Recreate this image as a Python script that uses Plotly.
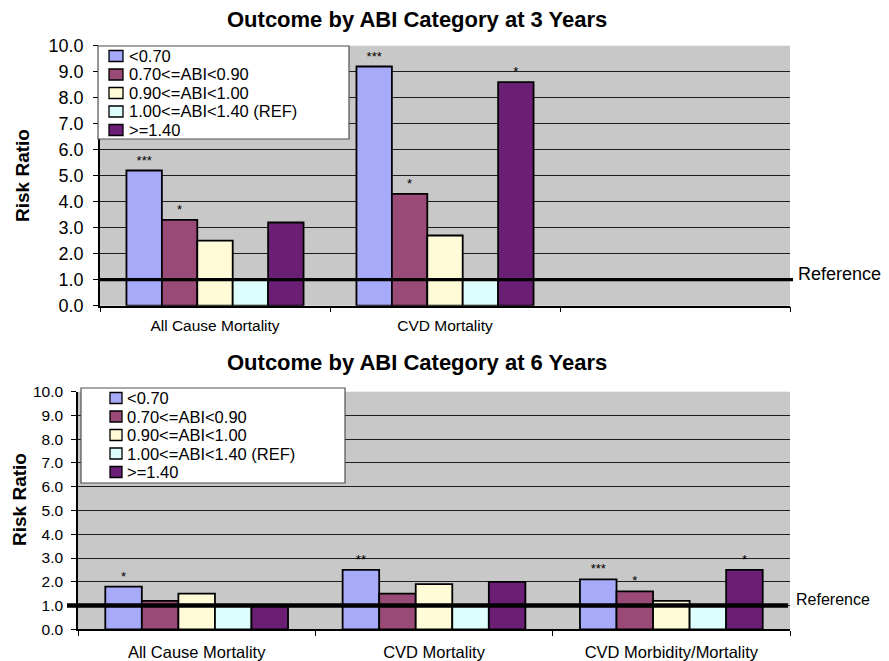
import plotly.graph_objects as go

# ---------------- data ----------------
SERIES = ["<0.70", "0.70<=ABI<0.90", "0.90<=ABI<1.00", "1.00<=ABI<1.40 (REF)", ">=1.40"]
COLORS = ["#A7A9F9", "#994A76", "#FFFBD6", "#DEFDFD", "#6A1F74"]

TOP_TITLE = "Outcome by ABI Category at 3 Years"
BOTTOM_TITLE = "Outcome by ABI Category at 6 Years"
Y_TITLE = "Risk Ratio"
REF_LABEL = "Reference"
REF_LEVEL = 1.0

TOP_CATEGORIES = ["All Cause Mortality", "CVD Mortality", " "]
top_lt070 = [5.2, 9.2, None]
top_070_090 = [3.3, 4.3, None]
top_090_100 = [2.5, 2.7, None]
top_ref = [1.0, 1.0, None]
top_ge140 = [3.2, 8.6, None]
top_stars_lt070 = ["***", "***", ""]
top_stars_070_090 = ["*", "*", ""]
top_stars_090_100 = ["", "", ""]
top_stars_ref = ["", "", ""]
top_stars_ge140 = ["", "*", ""]

BOTTOM_CATEGORIES = ["All Cause Mortality", "CVD Mortality", "CVD Morbidity/Mortality"]
bot_lt070 = [1.8, 2.5, 2.1]
bot_070_090 = [1.2, 1.5, 1.6]
bot_090_100 = [1.5, 1.9, 1.2]
bot_ref = [1.0, 1.0, 1.0]
bot_ge140 = [1.0, 2.0, 2.5]
bot_stars_lt070 = ["*", "**", "***"]
bot_stars_070_090 = ["", "", "*"]
bot_stars_090_100 = ["", "", ""]
bot_stars_ref = ["", "", ""]
bot_stars_ge140 = ["", "", "*"]

Y_TICKS = [0, 1, 2, 3, 4, 5, 6, 7, 8, 9, 10]

top_values = [top_lt070, top_070_090, top_090_100, top_ref, top_ge140]
top_stars = [top_stars_lt070, top_stars_070_090, top_stars_090_100, top_stars_ref, top_stars_ge140]
bot_values = [bot_lt070, bot_070_090, bot_090_100, bot_ref, bot_ge140]
bot_stars = [bot_stars_lt070, bot_stars_070_090, bot_stars_090_100, bot_stars_ref, bot_stars_ge140]

# ---------------- layout helpers ----------------
W, H = 889, 661
OFF = 8  # page body margin
FONT = "Arial, Liberation Sans, sans-serif"


def px(p):
    return (p - OFF) / W


def py(p):
    return 1 - (p - OFF) / H


fig = go.Figure()

for name, color, vals, stars in zip(SERIES, COLORS, top_values, top_stars):
    fig.add_trace(go.Bar(
        x=TOP_CATEGORIES, y=vals, name=name, text=stars,
        textposition="outside", textfont=dict(size=13, color="black", family=FONT),
        cliponaxis=False, marker=dict(color=color, line=dict(color="black", width=1.8)),
        xaxis="x", yaxis="y", showlegend=False, hoverinfo="x+y+name",
    ))

for name, color, vals, stars in zip(SERIES, COLORS, bot_values, bot_stars):
    fig.add_trace(go.Bar(
        x=BOTTOM_CATEGORIES, y=vals, name=name, text=stars,
        textposition="outside", textfont=dict(size=13, color="black", family=FONT),
        cliponaxis=False, marker=dict(color=color, line=dict(color="black", width=1.8)),
        xaxis="x2", yaxis="y2", showlegend=False, hoverinfo="x+y+name",
    ))

common_y = dict(
    range=[0, 10], tickvals=Y_TICKS, tickformat=".1f",
    showgrid=True, gridcolor="#1e1e1e", gridwidth=1.3,
    showline=True, linecolor="black", linewidth=1.5,
    ticks="outside", ticklen=5, tickcolor="black", tickwidth=1.3,
    zeroline=False, fixedrange=True, automargin=False,
)
common_x = dict(
    type="category", categoryorder="array", range=[-0.5, 2.5],
    showline=True, linecolor="black", linewidth=1.5,
    ticks="outside", tickson="boundaries", ticklen=5, tickcolor="black", tickwidth=1.3,
    showgrid=False, zeroline=False, fixedrange=True, automargin=False,
)

fig.update_layout(
    width=W, height=H, autosize=False,
    margin=dict(l=0, r=0, t=0, b=0, pad=0),
    paper_bgcolor="white", plot_bgcolor="#C8C8C8",
    barmode="group", bargap=0.23, bargroupgap=0,
    showlegend=False,
    font=dict(family=FONT, color="black"),
    xaxis=dict(common_x, domain=[px(100), px(790)], anchor="y",
               categoryarray=TOP_CATEGORIES, tickfont=dict(size=15.5), ticklabelstandoff=5),
    yaxis=dict(common_y, domain=[py(305.7), py(45.7)], anchor="x",
               tickfont=dict(size=18), ticklabelstandoff=6),
    xaxis2=dict(common_x, domain=[px(78), px(790)], anchor="y2",
                categoryarray=BOTTOM_CATEGORIES, tickfont=dict(size=16.5), ticklabelstandoff=7),
    yaxis2=dict(common_y, domain=[py(629.3), py(391.7)], anchor="x2",
                tickfont=dict(size=15.5), ticklabelstandoff=5),
)

annotations = []
shapes = []

# titles
annotations.append(dict(text="<b>%s</b>" % TOP_TITLE, x=px(417), y=py(20), xref="paper", yref="paper",
                        xanchor="center", yanchor="middle", showarrow=False, font=dict(size=22)))
annotations.append(dict(text="<b>%s</b>" % BOTTOM_TITLE, x=px(417), y=py(362), xref="paper", yref="paper",
                        xanchor="center", yanchor="middle", showarrow=False, font=dict(size=22)))
# axis titles
annotations.append(dict(text="<b>%s</b>" % Y_TITLE, x=px(22), y=py(176), xref="paper", yref="paper",
                        textangle=-90, xanchor="center", yanchor="middle", showarrow=False, font=dict(size=19)))
annotations.append(dict(text="<b>%s</b>" % Y_TITLE, x=px(20), y=py(500), xref="paper", yref="paper",
                        textangle=-90, xanchor="center", yanchor="middle", showarrow=False, font=dict(size=19)))

# reference lines and labels
shapes.append(dict(type="line", xref="paper", yref="y", x0=px(100), x1=px(793), y0=REF_LEVEL, y1=REF_LEVEL,
                   line=dict(color="black", width=3.3), layer="above"))
shapes.append(dict(type="line", xref="paper", yref="y2", x0=px(67), x1=px(788), y0=REF_LEVEL, y1=REF_LEVEL,
                   line=dict(color="black", width=4.5), layer="above"))
annotations.append(dict(text=REF_LABEL, x=px(796), y=REF_LEVEL, xref="paper", yref="y", yshift=6,
                        xanchor="left", yanchor="middle", showarrow=False, font=dict(size=18)))
annotations.append(dict(text=REF_LABEL, x=px(794), y=REF_LEVEL, xref="paper", yref="y2", yshift=6,
                        xanchor="left", yanchor="middle", showarrow=False, font=dict(size=16)))


# custom legends (compact, like the original)
def add_legend(box, sw_x0, sw_x1, text_x, y0, step, fsize):
    shapes.append(dict(type="rect", xref="paper", yref="paper",
                       x0=px(box[0]), x1=px(box[2]), y0=py(box[3]), y1=py(box[1]),
                       fillcolor="white", line=dict(color="#505050", width=1.2), layer="above"))
    for i, (name, color) in enumerate(zip(SERIES, COLORS)):
        cy = y0 + i * step
        shapes.append(dict(type="rect", xref="paper", yref="paper",
                           x0=px(sw_x0), x1=px(sw_x1), y0=py(cy + 5.5), y1=py(cy - 5.5),
                           fillcolor=color, line=dict(color="black", width=1.3), layer="above"))
        annotations.append(dict(text=name, x=px(text_x), y=py(cy), xref="paper", yref="paper",
                                xanchor="left", yanchor="middle", showarrow=False,
                                font=dict(size=fsize)))


add_legend((98, 46, 349, 139), 109, 123, 127, 56, 18.5, 16.5)
add_legend((81, 388, 345, 483), 110, 122, 125, 398, 18.5, 16.5)

fig.update_layout(annotations=annotations, shapes=shapes)

fig.write_html("out.html")
